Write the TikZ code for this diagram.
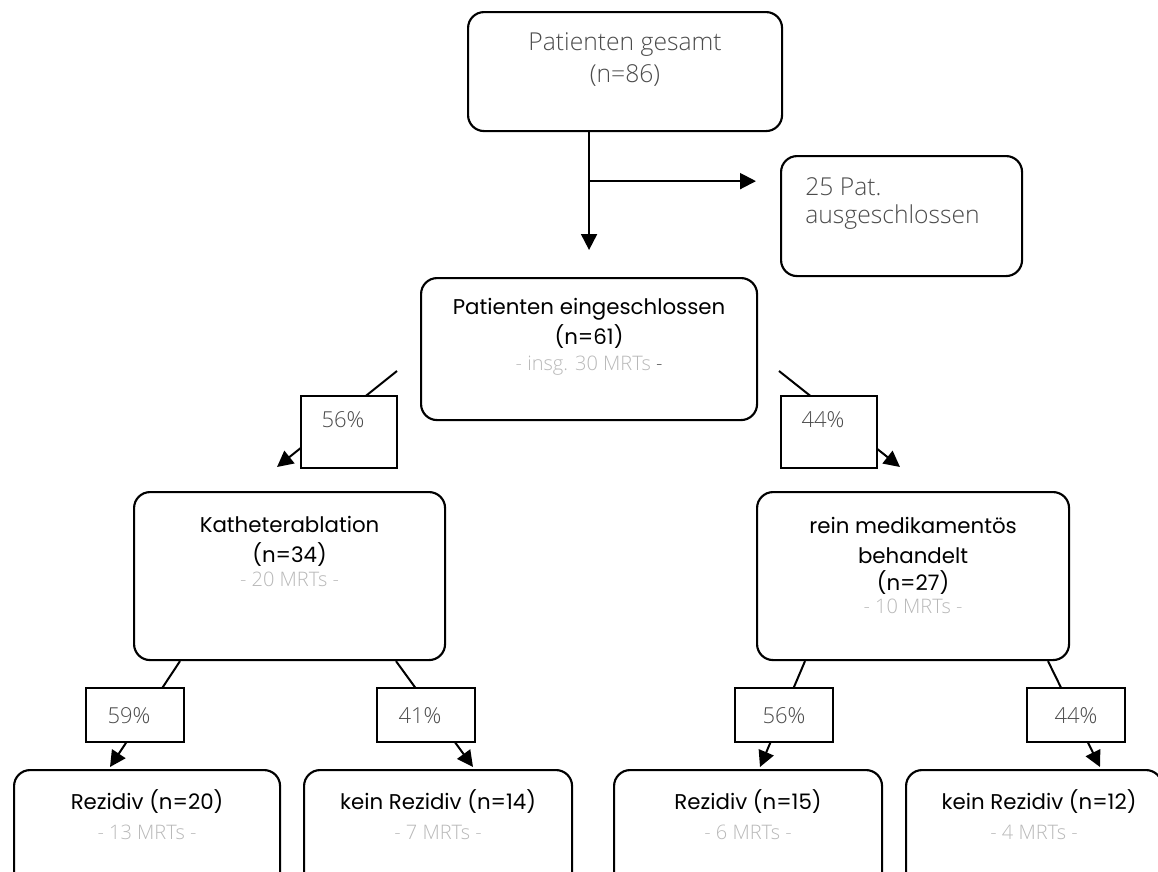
\documentclass[tikz,border=0pt]{standalone}
\usepackage{fontspec}
\setmainfont{Open Sans}[UprightFont=* Light]
\newfontfamily\geo{Poppins}
\usetikzlibrary{arrows.meta,calc}
\definecolor{darkgrey}{gray}{0.3}
\definecolor{lightgrey}{gray}{0.72}

\begin{document}
\begin{tikzpicture}[x=0.75pt,y=-0.75pt,
  box/.style={draw,line width=1.6pt,rounded corners=12pt,anchor=north west,inner sep=0pt},
  pbox/.style={draw,line width=1.5pt,fill=white,anchor=north west,inner sep=0pt},
  conn/.style={line width=1.5pt,-{Triangle[width=12pt,length=12pt]}},
  blk/.style={font=\geo\fontsize{16}{19}\selectfont,anchor=base,inner sep=0pt},
  lgt/.style={font=\fontsize{18.5}{22}\selectfont,text=darkgrey,anchor=base,inner sep=0pt},
  mrt/.style={font=\fontsize{15}{18}\selectfont,text=lightgrey,anchor=base,inner sep=0pt},
  pct/.style={font=\fontsize{16.5}{19}\selectfont,text=darkgrey,anchor=base,inner sep=0pt}]
  \useasboundingbox (0,0) rectangle (1158,872);

  \node[box,minimum width=235.5pt,minimum height=89.25pt] (gesamt) at (467,11) {};
  \node[box,minimum width=180.75pt,minimum height=90pt] (ausg) at (780,155) {};
  \node[box,minimum width=252pt,minimum height=106.5pt] (ein) at (420,277) {};
  \node[box,minimum width=233.25pt,minimum height=126pt] (kath) at (133,491) {};
  \node[box,minimum width=234pt,minimum height=126pt] (med) at (756,491) {};
  \node[box,minimum width=199.5pt,minimum height=97.5pt] (rez20) at (13,769) {};
  \node[box,minimum width=201pt,minimum height=97.5pt] (kein14) at (303,769) {};
  \node[box,minimum width=201pt,minimum height=97.5pt] (rez15) at (613,769) {};
  \node[box,minimum width=192pt,minimum height=97.5pt] (kein12) at (905,769) {};

  \coordinate (split) at (gesamt.south -| ein.north);
  \coordinate (splitb) at ($(split)+(0,49)$);
  \coordinate (downend) at ($(ein.north)+(0,-27)$);
  \coordinate (ausgend) at ($(ausg.west |- splitb)+(-24,0)$);
  \draw[conn] (split) -- (downend);
  \draw[conn] (splitb) -- (ausgend);

  \coordinate (l1a) at (397,371);
  \coordinate (l1b) at (277,467);
  \coordinate (r1a) at (779,371);
  \coordinate (r1b) at (900,467);
  \draw[conn] (l1a) -- (l1b);
  \draw[conn] (r1a) -- (r1b);
  \coordinate (k1a) at ($(kath.south west)+(47,0)$);
  \coordinate (k1b) at ($(rez20.north west)+(97,-2)$);
  \coordinate (k2a) at ($(kath.south west)+(263,0)$);
  \coordinate (k2b) at ($(kein14.north west)+(170,-2)$);
  \coordinate (m1a) at ($(med.south west)+(49,0)$);
  \coordinate (m1b) at ($(rez15.north west)+(147,-2)$);
  \coordinate (m2a) at ($(med.south west)+(292,0)$);
  \coordinate (m2b) at ($(kein12.north west)+(195,-2)$);
  \draw[conn] (k1a) -- (k1b);
  \draw[conn] (k2a) -- (k2b);
  \draw[conn] (m1a) -- (m1b);
  \draw[conn] (m2a) -- (m2b);

  \node[pbox,minimum width=72pt,minimum height=54pt] (p1) at (300,395) {};
  \node[pbox,minimum width=72pt,minimum height=54pt] (p2) at (780,395) {};
  \node[pbox,minimum width=73.5pt,minimum height=40.5pt] (p3) at (85,687) {};
  \node[pbox,minimum width=73.5pt,minimum height=40.5pt] (p4) at (376,687) {};
  \node[pbox,minimum width=73.5pt,minimum height=40.5pt] (p5) at (734,687) {};
  \node[pbox,minimum width=73.5pt,minimum height=40.5pt] (p6) at (1026,687) {};

  \node[lgt] (gesamt-a) at ($(gesamt.north)+(0,39)$) {Patienten gesamt};
  \node[lgt] (gesamt-b) at ($(gesamt.north)+(0,71)$) {(n=86)};
  \node[lgt,anchor=base west] (ausg-a) at ($(ausg.north west)+(25,40)$) {25 Pat.};
  \node[lgt,anchor=base west] (ausg-b) at ($(ausg.north west)+(25,68)$) {ausgeschlossen};

  \node[blk] (ein-a) at ($(ein.north)+(0,37)$) {Patienten eingeschlossen};
  \node[blk] (ein-b) at ($(ein.north)+(0,67)$) {(n=61)};
  \node[mrt] (ein-c) at ($(ein.north)+(0,93)$) {- insg. 30 MRTs \textcolor{darkgrey}{-}};

  \node[pct] (p1-t) at ($(p1.north)+(-6,32)$) {56\%};
  \node[pct] (p2-t) at ($(p2.north)+(-6,32)$) {44\%};
  \node[pct] (p3-t) at ($(p3.north)+(-6,36)$) {59\%};
  \node[pct] (p4-t) at ($(p4.north)+(-6,36)$) {41\%};
  \node[pct] (p5-t) at ($(p5.north)+(0,36)$) {56\%};
  \node[pct] (p6-t) at ($(p6.north)+(0,36)$) {44\%};

  \node[blk] (kath-a) at ($(kath.north)+(0,41)$) {Katheterablation};
  \node[blk] (kath-b) at ($(kath.north)+(0,71)$) {(n=34)};
  \node[mrt] (kath-c) at ($(kath.north)+(0,95)$) {- 20 MRTs -};

  \node[blk] (med-a) at ($(med.north)+(0,42)$) {rein medikamentös};
  \node[blk] (med-b) at ($(med.north)+(0,72)$) {behandelt};
  \node[blk] (med-c) at ($(med.north)+(0,99)$) {(n=27)};
  \node[mrt] (med-d) at ($(med.north)+(0,122)$) {- 10 MRTs -};

  \node[blk] (rez20-a) at ($(rez20.north)+(0,40)$) {Rezidiv (n=20)};
  \node[mrt] (rez20-b) at ($(rez20.north)+(0,70)$) {- 13 MRTs -};
  \node[blk] (kein14-a) at ($(kein14.north)+(0,40)$) {kein Rezidiv (n=14)};
  \node[mrt] (kein14-b) at ($(kein14.north)+(0,70)$) {- 7 MRTs -};
  \node[blk] (rez15-a) at ($(rez15.north)+(0,40)$) {Rezidiv (n=15)};
  \node[mrt] (rez15-b) at ($(rez15.north)+(0,70)$) {- 6 MRTs -};
  \node[blk] (kein12-a) at ($(kein12.north)+(5,40)$) {kein Rezidiv (n=12)};
  \node[mrt] (kein12-b) at ($(kein12.north)+(0,70)$) {- 4 MRTs -};
\end{tikzpicture}
\end{document}
